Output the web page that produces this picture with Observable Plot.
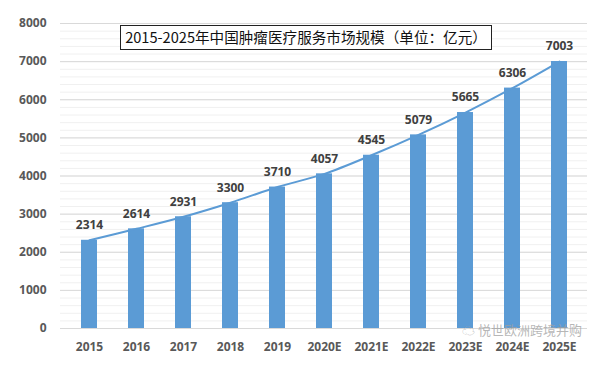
<!DOCTYPE html>
<html><head><meta charset="utf-8">
<script src="https://cdn.jsdelivr.net/npm/d3@7"></script>
<script src="https://cdn.jsdelivr.net/npm/@observablehq/plot@0.6"></script>
<style>
body{margin:0;background:#fff;font-family:"Noto Sans CJK SC","Open Sans",sans-serif;}
#wrap{position:relative;width:600px;height:367px;}
#title{position:absolute;left:120px;top:25px;width:372px;height:25px;border:1.5px solid #222;box-sizing:border-box;font-size:14.6px;line-height:22px;color:#111;text-align:center;background:#fff;}
#wm{position:absolute;left:462px;top:322px;font-size:13px;line-height:16px;color:rgba(160,160,160,0.75);}
</style></head>
<body><div id="wrap"><div id="chart"></div><div id="title">2015-2025年中国肿瘤医疗服务市场规模（单位：亿元）</div><div id="wm">☁ 悦世欧洲跨境并购</div></div>
<script>
const years = ["2015","2016","2017","2018","2019","2020E","2021E","2022E","2023E","2024E","2025E"];
const values = [2314,2614,2931,3300,3710,4057,4545,5079,5665,6306,7003];
const yTicks = [0,1000,2000,3000,4000,5000,6000,7000,8000];
const minorTicks = d3.range(0,8001,200);
const data = years.map((y,i)=>({year:y,value:values[i]}));
const blue = "#5b9bd5";
const chart = Plot.plot({
  width:600,height:367,
  marginLeft:60,marginRight:13,marginTop:23,marginBottom:39,
  style:{fontFamily:"'Open Sans','Noto Sans',sans-serif",fontSize:"12px",color:"#595959",fontWeight:"bold"},
  x:{domain:years,paddingInner:0.66,paddingOuter:0.33,label:null,tickSize:0,tickPadding:14},
  y:{domain:[0,8000],label:null,ticks:yTicks,tickFormat:d=>String(d),tickSize:0,tickPadding:14},
  marks:[
    Plot.ruleY(minorTicks,{stroke:"#f0f0f0"}),
    Plot.ruleY(yTicks,{stroke:"#d9d9d9"}),
    Plot.barY(data,{x:"year",y:"value",fill:blue}),
    Plot.line(data,{x:"year",y:"value",stroke:blue,strokeWidth:2,curve:"catmull-rom"}),
    Plot.text(data,{x:"year",y:"value",text:d=>String(d.value),dy:-15,fill:"#404040",fontWeight:"bold",fontSize:12}),
  ]
});
document.getElementById("chart").append(chart);
</script></body></html>
